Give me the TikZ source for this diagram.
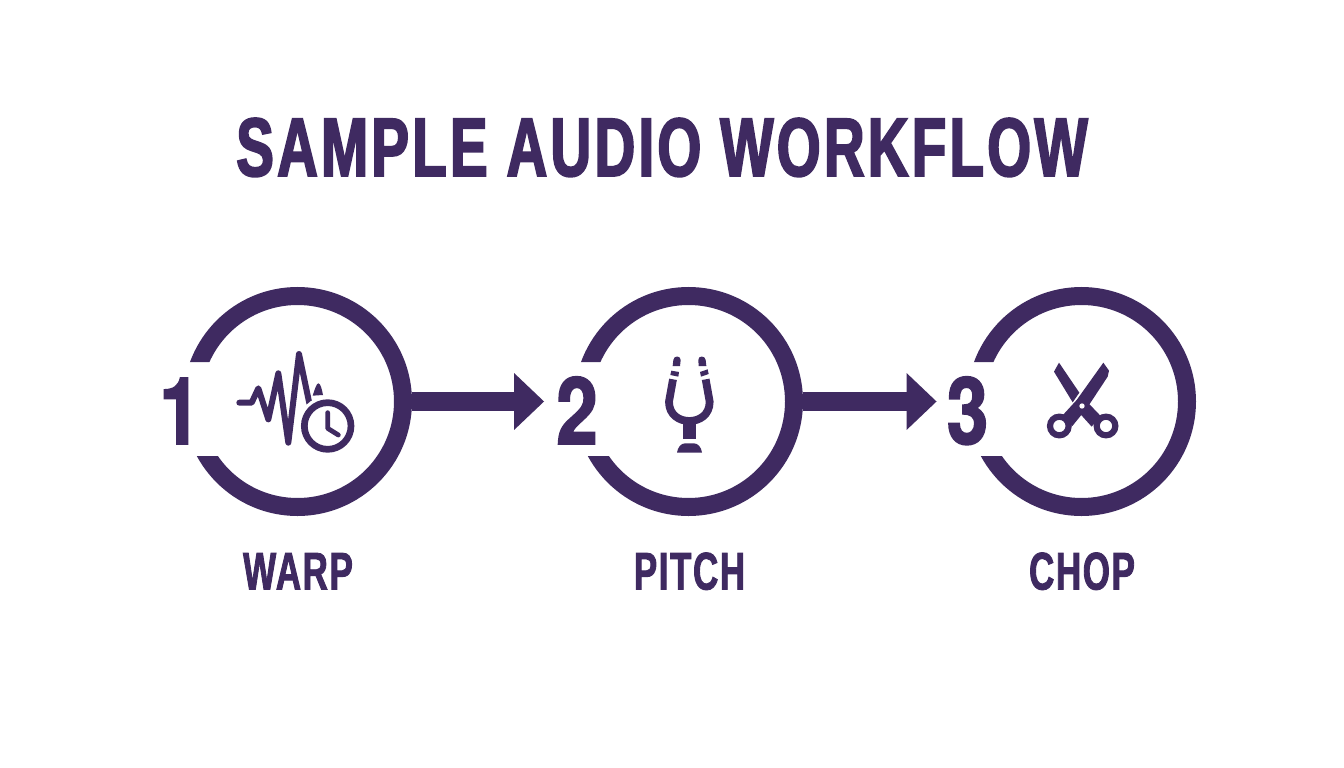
\documentclass[tikz,border=0pt]{standalone}
\usepackage{fontspec}
\setmainfont[FakeStretch=0.66,FakeBold=1.6,LetterSpace=3]{Liberation Sans Bold}
\newfontfamily\ttlfont[FakeStretch=0.68,FakeBold=2.2,LetterSpace=3.9]{Liberation Sans Bold}
\newfontfamily\numfont[FakeStretch=0.8,FakeBold=1.8]{TeX Gyre Heros Bold}
\usetikzlibrary{arrows.meta}
\definecolor{ink}{HTML}{3F2A61}
\tikzset{
  x=1pt,y=-1pt,
  ringnode/.style={circle,minimum size=229pt,inner sep=0pt,outer sep=0pt},
  ttl/.style={text=ink,inner sep=0pt,font=\ttlfont\fontsize{83}{83}\selectfont,anchor=base},
  lbl/.style={text=ink,inner sep=0pt,font=\fontsize{53}{53}\selectfont,anchor=base},
  num/.style={text=ink,inner sep=0pt,font=\numfont\fontsize{93}{93}\selectfont,anchor=base},
  ring/.style={draw=ink,line width=18pt},
  flow/.style={draw=ink,line width=19pt,-{Triangle[length=30pt,width=55pt,color=ink]},yshift=1pt},
  icon/.style={draw=ink,line join=round,line cap=round},
  zoomed/.style={x=0.33333pt,y=-0.33333pt}
}
\newcommand{\gapring}[1]{%
  \begin{scope}
    \clip (0,0) -- (1344,0) -- (1344,768) -- (0,768) -- (0,456) -- (#1,456) -- (#1,362) -- (0,362) -- cycle;
    \draw[ring] (#1,401.5) circle[radius=105.5];
  \end{scope}}
\begin{document}
\begin{tikzpicture}
\useasboundingbox[fill=white] (0,0) rectangle (1344,768);
\node[ttl] (title) at (662,176) {SAMPLE AUDIO WORKFLOW};

\node[ringnode] (c1) at (297.5,401.5) {};
\node[ringnode] (c2) at (688.5,401.5) {};
\node[ringnode] (c3) at (1081.5,401.5) {};
\gapring{297.5}\gapring{688.5}\gapring{1081.5}

\node[num] (n1) at (180,444) {1};
\node[num] (n2) at (577,444) {2};
\node[num] (n3) at (967.5,444) {3};

\draw[flow,shorten >=12pt] (c1.east) -- (n2.west |- c1.east);
\draw[flow,shorten >=10pt] (c2.east) -- (n3.west |- c2.east);

\node[lbl] (l1) at (298,589.5) {WARP};
\node[lbl] (l2) at (689.5,589.5) {PITCH};
\node[lbl] (l3) at (1082,589.5) {CHOP};

% waveform + clock
\begin{scope}[shift={(150,280)},zoomed]
  \draw[icon,line width=6pt] (268,368) -- (305,368) -- (325,325) -- (355,418) -- (385,280) -- (415,488) -- (447,222) -- (478,370);
  \fill[ink] (488,347) .. controls (495,325) and (500,310) .. (505,310) .. controls (512,310) and (516,330) .. (519,345) -- cycle;
  \fill[white] (533,438) circle[radius=90];
  \draw[ink,line width=6.7pt] (533,438) circle[radius=70];
  \draw[icon,line width=4.8pt] (533,398) -- (533,445) -- (565,465);
\end{scope}

% tuning fork
\begin{scope}[shift={(620,340)},zoomed]
  \fill[ink] (158,78) -- (160,60) .. controls (161,46) and (182,46) .. (182,60) -- (180,78) -- cycle;
  \fill[ink] (236,78) -- (235,60) .. controls (234,46) and (256,46) .. (257,60) -- (259,78) -- cycle;
  \fill[ink] (154,92) -- (177,96) -- (175,110) -- (151,105) -- cycle;
  \fill[ink] (240,96) -- (263,88) -- (266,102) -- (243,110) -- cycle;
  \draw[ink,line width=7.8pt] (159,118) -- (147,185) .. controls (147,225) and (178,243) .. (208,243) .. controls (238,243) and (269,225) .. (269,185) -- (257,118);
  \fill[ink] (190,245) rectangle (228,296);
  \fill[ink] (171,338) .. controls (173,322) and (183,310) .. (195,310) -- (222,310) .. controls (234,310) and (244,322) .. (246,338) -- cycle;
\end{scope}

% scissors
\begin{scope}[shift={(1020,350)},zoomed]
  \fill[ink] (117,38) -- (102,65) -- (158,157) -- (178,128) -- cycle;
  \fill[ink] (250,38) -- (267,62) -- (263,80) -- (201,174) -- (157,228) -- (126,198) -- (170,150) -- cycle;
  \fill[ink] (198,152) -- (242,198) -- (215,230) -- (170,180) -- cycle;
  \draw[ink,line width=6.2pt] (118,228) circle[radius=28];
  \draw[ink,line width=6.2pt] (258,228) circle[radius=28];
  \fill[white] (186,168) circle[radius=8];
\end{scope}
\end{tikzpicture}
\end{document}
